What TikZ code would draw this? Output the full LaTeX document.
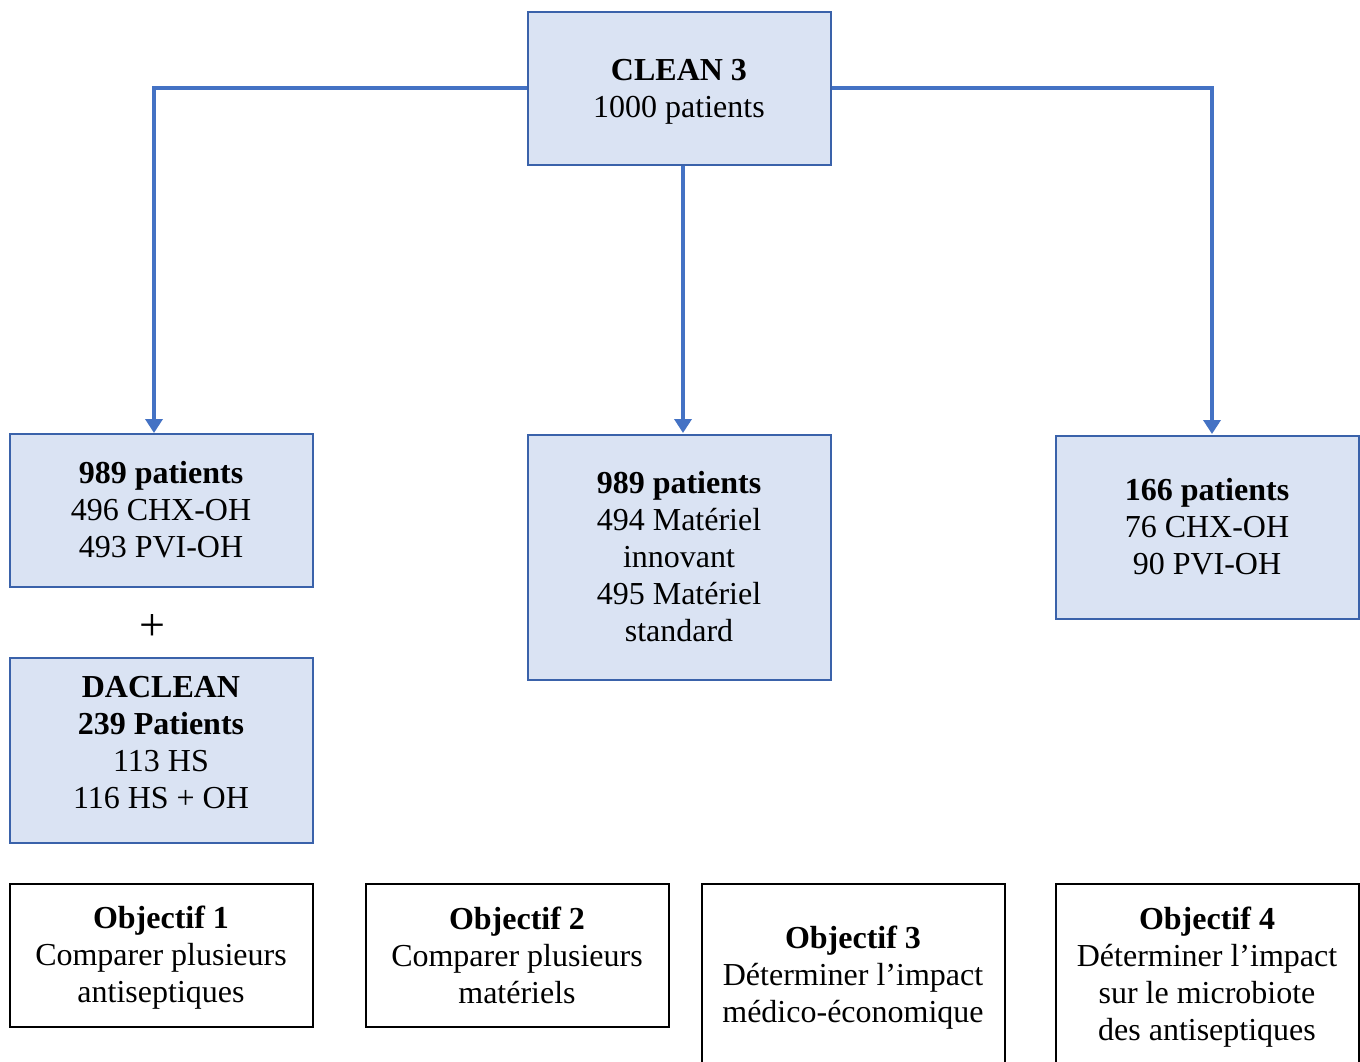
\documentclass[tikz,border=0pt]{standalone}
\usepackage{fontspec}
\setmainfont{Liberation Serif}
\usetikzlibrary{arrows.meta}
\definecolor{fillb}{HTML}{DAE3F3}
\definecolor{edgeb}{HTML}{3A62AA}
\definecolor{connc}{HTML}{4472C4}
\begin{document}
\begin{tikzpicture}[x=1pt,y=-1pt,
  txt/.style={font=\fontsize{32}{37}\selectfont, align=center, inner sep=0pt},
  bluebox/.style={draw=edgeb, line width=2pt, fill=fillb, minimum width=303pt, inner sep=0pt},
  objbox/.style={draw=black, line width=2pt, fill=white, minimum width=303pt, inner sep=0pt},
  connline/.style={draw=connc, line width=4pt, line join=miter, -{Triangle[width=17pt,length=14pt]}}]
\useasboundingbox (0,0) rectangle (1360,1061);
\fill[white] (0,0) rectangle (1360,1061);

% blue boxes
\node[bluebox, minimum height=153pt] (clean) at (679,88) {};
\node[txt] (cleant) at (679,92) {\textbf{CLEAN 3}\\1000 patients};
\node[bluebox, minimum height=153pt] (l1) at (161,510) {};
\node[txt] (l1t) at (161,510) {\textbf{989 patients}\\496 CHX-OH\\493 PVI-OH};
\node[font=\fontsize{46}{50}\selectfont, inner sep=0pt] (plus) at (152,627) {+};
\node[bluebox, minimum height=185pt] (dac) at (161,750) {};
\node[txt] (dact) at (161,743) {\textbf{DACLEAN}\\\textbf{239 Patients}\\113 HS\\116 HS + OH};
\node[bluebox, minimum height=245pt] (mid) at (679,557) {};
\node[txt] (midt) at (679,557) {\textbf{989 patients}\\494 Matériel\\innovant\\495 Matériel\\standard};
\node[bluebox, minimum height=183pt] (rgt) at (1207,527) {};
\node[txt] (rgtt) at (1207,527) {\textbf{166 patients}\\76 CHX-OH\\90 PVI-OH};

% objective boxes
\node[objbox, minimum height=143pt] (o1) at (161,955) {};
\node[txt] (o1t) at (161,958) {\textbf{Objectif 1}\\Comparer plusieurs\\antiseptiques};
\node[objbox, minimum height=143pt] (o2) at (517,955) {};
\node[txt] (o2t) at (517,955) {\textbf{Objectif 2}\\Comparer plusieurs\\matériels};
\node[objbox, minimum height=183pt] (o3) at (853,975) {};
\node[txt] (o3t) at (853,978) {\textbf{Objectif 3}\\Déterminer l’impact\\médico-économique};
\node[objbox, minimum height=183pt] (o4) at (1207,975) {};
\node[txt] (o4t) at (1207,977) {\textbf{Objectif 4}\\Déterminer l’impact\\sur le microbiote\\des antiseptiques};

% connectors
\coordinate (t1) at (154,433);
\coordinate (t2) at (683,433);
\coordinate (t3) at (1212,434);
\draw[connline] (clean.west) -| (t1);
\draw[connline] (clean.south -| t2) -- (t2);
\draw[connline] (clean.east) -| (t3);
\end{tikzpicture}
\end{document}
